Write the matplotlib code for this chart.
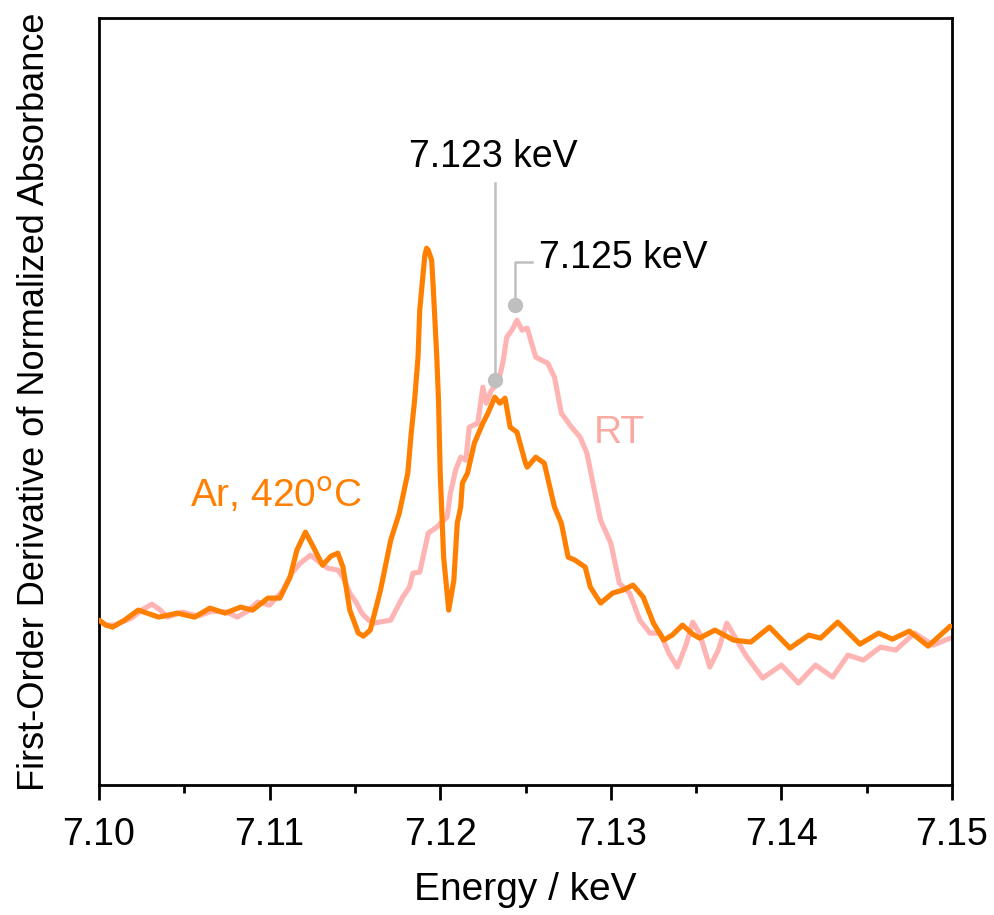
import matplotlib
matplotlib.use("Agg")
import matplotlib.pyplot as plt
from matplotlib.ticker import MultipleLocator

# Энергия (keV) и производная нормированного поглощения (отн. ед.)
energy_ar = [7.1000, 7.1004, 7.1008, 7.1015, 7.1023, 7.1035, 7.1046, 7.1056, 7.1065, 7.1074,
             7.1083, 7.1090, 7.1099, 7.1106, 7.1112, 7.1116, 7.1121, 7.1126, 7.1131, 7.1136,
             7.1140, 7.1143, 7.1147, 7.1152, 7.1155, 7.1159, 7.1165, 7.1171, 7.1176, 7.1181,
             7.1183, 7.1185, 7.1187, 7.1188, 7.1190, 7.1191, 7.1192, 7.1193, 7.1195, 7.1196,
             7.1198, 7.1199, 7.1200, 7.1202, 7.1205, 7.1208, 7.1210, 7.1212, 7.1213, 7.1216,
             7.1220, 7.1225, 7.1228, 7.1232, 7.1235, 7.1238, 7.1241, 7.1245, 7.1250, 7.1251,
             7.1256, 7.1261, 7.1267, 7.1271, 7.1275, 7.1279, 7.1285, 7.1288, 7.1294, 7.1301,
             7.1307, 7.1313, 7.1319, 7.1325, 7.1331, 7.1336, 7.1342, 7.1348, 7.1352, 7.1361,
             7.1372, 7.1382, 7.1393, 7.1405, 7.1416, 7.1423, 7.1433, 7.1446, 7.1457, 7.1465,
             7.1475, 7.1486, 7.1499]
deriv_ar = [0.00, -0.05, -0.07, 0.00, 0.10, 0.03, 0.07, 0.03, 0.12, 0.07,
            0.13, 0.10, 0.22, 0.22, 0.43, 0.70, 0.88, 0.72, 0.55, 0.64,
            0.67, 0.53, 0.10, -0.13, -0.16, -0.10, 0.30, 0.80, 1.07, 1.47,
            1.87, 2.20, 2.63, 3.10, 3.47, 3.65, 3.72, 3.70, 3.60, 3.30,
            2.63, 2.20, 1.47, 0.63, 0.10, 0.40, 0.97, 1.13, 1.37, 1.47,
            1.77, 1.97, 2.07, 2.23, 2.17, 2.22, 1.93, 1.88, 1.57, 1.53,
            1.63, 1.57, 1.13, 0.97, 0.63, 0.60, 0.53, 0.33, 0.17, 0.27,
            0.30, 0.35, 0.23, -0.03, -0.20, -0.15, -0.05, -0.14, -0.18, -0.10,
            -0.20, -0.22, -0.07, -0.28, -0.15, -0.18, -0.02, -0.24, -0.13, -0.19,
            -0.11, -0.26, -0.06]

energy_rt = [7.1000, 7.1004, 7.1009, 7.1019, 7.1025, 7.1031, 7.1036, 7.1040, 7.1049, 7.1058,
             7.1066, 7.1075, 7.1081, 7.1087, 7.1093, 7.1100, 7.1108, 7.1113, 7.1118, 7.1124,
             7.1130, 7.1134, 7.1140, 7.1143, 7.1147, 7.1151, 7.1154, 7.1158, 7.1161, 7.1171,
             7.1178, 7.1182, 7.1184, 7.1188, 7.1193, 7.1198, 7.1204, 7.1206, 7.1209, 7.1212,
             7.1215, 7.1217, 7.1222, 7.1225, 7.1227, 7.1230, 7.1234, 7.1237, 7.1239, 7.1242,
             7.1245, 7.1248, 7.1251, 7.1256, 7.1263, 7.1267, 7.1271, 7.1277, 7.1282, 7.1286,
             7.1290, 7.1294, 7.1300, 7.1305, 7.1311, 7.1317, 7.1323, 7.1329, 7.1334, 7.1339,
             7.1344, 7.1348, 7.1352, 7.1358, 7.1363, 7.1368, 7.1379, 7.1389, 7.1400, 7.1410,
             7.1420, 7.1430, 7.1439, 7.1448, 7.1458, 7.1467, 7.1478, 7.1489, 7.1499]
deriv_rt = [0.00, -0.05, -0.05, 0.02, 0.10, 0.16, 0.10, 0.03, 0.08, 0.04,
            0.09, 0.08, 0.03, 0.09, 0.18, 0.15, 0.30, 0.47, 0.57, 0.65,
            0.57, 0.52, 0.50, 0.43, 0.27, 0.17, 0.07, 0.00, -0.03, 0.00,
            0.23, 0.33, 0.47, 0.48, 0.87, 0.93, 1.03, 1.27, 1.50, 1.63,
            1.60, 1.93, 1.97, 2.33, 2.17, 2.30, 2.37, 2.60, 2.83, 2.90,
            3.00, 2.90, 2.92, 2.63, 2.57, 2.43, 2.07, 1.93, 1.83, 1.67,
            1.33, 1.00, 0.77, 0.37, 0.27, 0.00, -0.13, -0.13, -0.33, -0.47,
            -0.25, -0.02, -0.13, -0.47, -0.30, -0.03, -0.35, -0.58, -0.45, -0.63,
            -0.45, -0.57, -0.35, -0.40, -0.27, -0.30, -0.13, -0.25, -0.18]

xticks = [7.10, 7.11, 7.12, 7.13, 7.14, 7.15]
xtick_labels = ["7.10", "7.11", "7.12", "7.13", "7.14", "7.15"]

ORANGE = "#FF7F00"
PINK = "#FFB4B4"
GREY = "#BFBFBF"

plt.rcParams["font.family"] = ["Liberation Sans", "DejaVu Sans"]

fig = plt.figure(figsize=(9.95, 9.15), dpi=100)
ax = fig.add_axes([0.0995, 0.142, 0.8573, 0.838])

ax.plot(energy_rt, deriv_rt, color=PINK, lw=3.7, solid_joinstyle="round",
        solid_capstyle="round", zorder=2)
ax.plot(energy_ar, deriv_ar, color=ORANGE, lw=3.7, solid_joinstyle="round",
        solid_capstyle="round", zorder=3)

# Метки пиков
ax.plot([7.1232, 7.1232], [2.40, 4.37], color=GREY, lw=1.8, zorder=4)
ax.plot(7.1232, 2.40, "o", color=GREY, ms=10, zorder=5)
ax.text(7.1231, 4.63, "7.123 keV", fontsize=27, ha="center", va="center", color="black")

ax.plot([7.1244, 7.1244, 7.1254], [3.15, 3.58, 3.58], color=GREY, lw=1.8, zorder=4)
ax.plot(7.1244, 3.15, "o", color=GREY, ms=10, zorder=5)
ax.text(7.1258, 3.62, "7.125 keV", fontsize=27, ha="left", va="center", color="black")

ax.text(7.1104, 1.25, "Ar, 420$^{\\rm o}$C", fontsize=28, ha="center", va="center", color=ORANGE)
ax.text(7.1305, 1.87, "RT", fontsize=28, ha="center", va="center", color="#F9ABA3")

ax.set_xlim(7.10, 7.15)
ax.set_ylim(-1.65, 6.02)
ax.set_xticks(xticks)
ax.set_xticklabels(xtick_labels, fontsize=27)
ax.xaxis.set_minor_locator(MultipleLocator(0.005))
ax.tick_params(axis="x", which="major", direction="out", length=11, width=2, pad=12)
ax.tick_params(axis="x", which="minor", direction="out", length=6, width=2)
ax.set_yticks([])
for s in ax.spines.values():
    s.set_linewidth(2)

ax.set_xlabel("Energy / keV", fontsize=28, labelpad=14)
ax.set_ylabel("First-Order Derivative of Normalized Absorbance", fontsize=26, labelpad=34)

fig.savefig("out.png", dpi=100)
